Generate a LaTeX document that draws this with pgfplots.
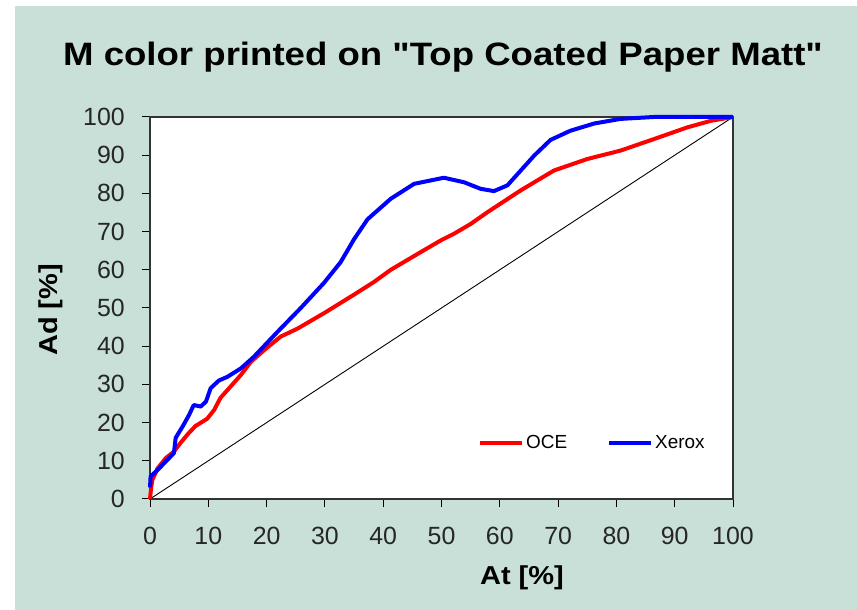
\documentclass[border=0pt]{standalone}
\usepackage{fontspec}
\setmainfont{Liberation Sans}[Ligatures=TeXOff]
\usepackage{pgfplots}
\pgfplotsset{compat=1.18}
\definecolor{bgteal}{RGB}{200,224,216}
\begin{document}
\begin{tikzpicture}
\useasboundingbox (0,0) rectangle (857bp,610bp);
\fill[white] (0,0) rectangle (857bp,610bp);
\fill[bgteal] (15bp,0) rectangle (857bp,604bp);
\node[font=\bfseries\fontsize{32.5}{38}\selectfont] at (443bp,553bp) {\scalebox{1.13}[1]{M color printed on "Top Coated Paper Matt"}};
\begin{axis}[
  at={(150bp,111bp)}, anchor=south west,
  scale only axis, width=583bp, height=382bp,
  xmin=0, xmax=100, ymin=0, ymax=100,
  xtick={0,10,...,100}, ytick={0,10,...,100},
  xtick pos=bottom, ytick pos=left,
  tick align=outside, major tick length=8bp,
  tick style={black, line width=1bp},
  axis line style={black!80, line width=1.6bp},
  axis background/.style={fill=white},
  clip=false,
  /pgf/number format/assume math mode=true,
  ticklabel style={font=\fontsize{25}{30}\selectfont, text=black!85},
  xticklabel style={anchor=north, inner sep=0pt, yshift=-20bp},
  yticklabel style={anchor=east, inner sep=0pt, xshift=-17bp},
  xlabel={\scalebox{1.12}[1]{At [\%]}},
  ylabel={\scalebox{1.12}[1]{Ad [\%]}},
  label style={font=\bfseries\fontsize{26}{30}\selectfont},
  xlabel style={at={(axis description cs:0.638,-0.207)}, anchor=center},
  ylabel style={at={(axis description cs:-0.170,0.495)}, anchor=center},
  legend style={at={(axis description cs:0.5626,0.1466)}, anchor=west,
    draw=none, fill=none, inner sep=0pt,
    font=\fontsize{19}{22}\selectfont, legend columns=2,
    /tikz/every even column/.append style={column sep=38bp},
    nodes={inner xsep=2bp, inner ysep=0pt}},
  legend image code/.code={\draw[#1, line width=4bp] (0bp,0bp) -- (42bp,0bp);},
]
\addplot[black, line width=0.9bp, forget plot] coordinates {
(0,0) (10,10) (20,20) (30,30) (40,40) (50,50) (60,60) (70,70) (80,80) (90,90) (100,100)};
\addplot[red, line width=4bp, line join=round] coordinates {
(0,0) (0.2,3) (0.4,5) (1.3,8) (2.7,10.7) (4.1,12.4) (5.3,14.8) (6.5,17) (7.8,19.1) (9.8,21)
(11,23.3) (12.1,26.5) (13.8,29.4) (15.6,32.5) (17.3,35.9) (19.6,39) (22.4,42.5) (25.3,44.6)
(29.8,48.6) (35,53.5) (38.4,56.8) (41.3,60) (46.4,64.6) (50,67.8) (52.1,69.4) (55,72)
(57.9,75.1) (63.6,80.8) (69.3,86) (75,89) (80.7,91.2) (86.4,94.2) (92.2,97.3) (96.2,99) (100,100)};
\addlegendentry{OCE}
\addplot[blue, line width=4bp, line join=round] coordinates {
(0,3) (0.1,5.9) (1.3,7.6) (2.7,9.8) (4.1,12) (4.4,16) (5.6,19) (6.7,22) (7.5,24.6) (8.7,24.2)
(9.6,25.5) (10.4,29) (11.8,31) (13.3,32) (15.6,34.2) (17.8,37.2) (21.9,43.8) (25.8,49.9)
(29.8,56.5) (32.7,62) (35,68) (37.3,73.2) (41.3,78.6) (45.3,82.5) (50.4,84.1) (53.9,82.9)
(56.7,81.2) (59,80.6) (61.3,82.1) (63.6,86) (65.9,89.9) (68.7,94) (72.1,96.4) (76.2,98.3)
(80.7,99.5) (86.4,100) (100,100)};
\addlegendentry{Xerox}
\end{axis}
\end{tikzpicture}
\end{document}
